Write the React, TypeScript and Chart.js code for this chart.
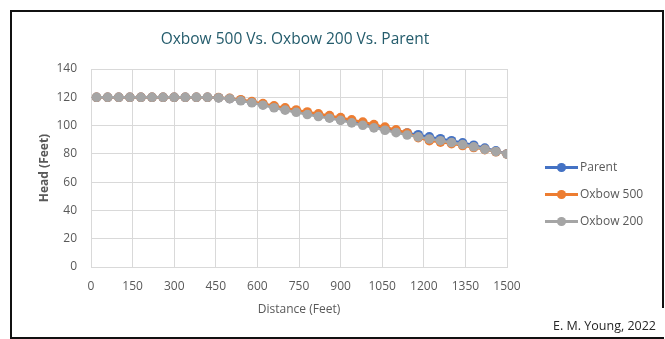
import React, { useEffect, useRef } from "react";
import { Chart, registerables } from "chart.js";

Chart.register(...registerables);

const distances = [20, 60, 100, 140, 180, 220, 260, 300, 340, 380, 420, 460, 500, 540, 580, 620, 660, 700, 740, 780, 820, 860, 900, 940, 980, 1020, 1060, 1100, 1140, 1180, 1220, 1260, 1300, 1340, 1380, 1420, 1460, 1500];

const parent = [120, 120, 120, 120, 120, 120, 120, 120, 120, 120, 120, 119.7, 119.1, 117.9, 116.5, 114.9, 113.3, 111.7, 110.1, 108.6, 107.1, 105.7, 104.3, 102.8, 101.3, 99.6, 97.9, 96.3, 94.8, 93.5, 92.0, 90.7, 89.3, 87.8, 86.1, 84.1, 82.1, 80.0];

const oxbow500 = [120, 120, 120, 120, 120, 120, 120, 120, 120, 120, 120, 119.8, 119.2, 118.3, 117.0, 115.5, 114.0, 112.5, 111.0, 109.6, 108.3, 107.0, 105.6, 104.0, 102.5, 100.7, 98.9, 97.0, 94.8, 91.5, 89.3, 88.3, 87.2, 85.9, 84.5, 83.0, 81.5, 79.9];

const oxbow200 = [120, 120, 120, 120, 120, 120, 120, 120, 120, 120, 120, 119.6, 119.0, 117.5, 116.1, 114.4, 112.6, 110.9, 109.4, 107.8, 106.4, 105.2, 103.7, 101.9, 100.2, 98.4, 96.7, 95.0, 93.3, 92.0, 90.5, 89.3, 88.0, 86.6, 85.0, 83.2, 81.6, 79.9];

const seriesNames = ["Parent", "Oxbow 500", "Oxbow 200"];
const seriesColors = ["#4472C4", "#ED7D31", "#A5A5A5"];

const FONT = "'Open Sans', 'Liberation Sans', sans-serif";

export default function App() {
  const canvasRef = useRef<HTMLCanvasElement | null>(null);

  useEffect(() => {
    const canvas = canvasRef.current;
    if (!canvas) return;
    const all = [parent, oxbow500, oxbow200];
    const chart = new Chart(canvas, {
      type: "line",
      data: {
        datasets: all.map((vals, i) => ({
          label: seriesNames[i],
          data: distances.map((d, j) => ({ x: d, y: vals[j] })),
          borderColor: seriesColors[i],
          backgroundColor: seriesColors[i],
          pointBackgroundColor: seriesColors[i],
          pointBorderColor: seriesColors[i],
          pointRadius: 4.8,
          pointBorderWidth: 0,
          borderWidth: 2.5,
          tension: 0,
          fill: false,
          order: 3 - i,
        })),
      },
      options: {
        animation: false,
        responsive: false,
        maintainAspectRatio: false,
        layout: { padding: { left: 0, top: 57, right: 145, bottom: 0 } },
        plugins: {
          legend: { display: false },
          title: { display: false },
          tooltip: { enabled: false },
        },
        scales: {
          x: {
            type: "linear",
            min: 0,
            max: 1500,
            ticks: {
              stepSize: 150,
              padding: 12,
              color: "#595959",
              font: { family: FONT, size: 12 },
              maxRotation: 0,
              callback: (v: any) => String(v),
            },
            grid: { color: "#D9D9D9", lineWidth: 1, drawTicks: false },
            border: { color: "#D9D9D9" },
            title: {
              display: true,
              text: "Distance (Feet)",
              color: "#595959",
              font: { family: FONT, size: 12 },
              padding: { top: 0, bottom: 17 },
            },
            afterFit: (s: any) => {
              s.height = 67;
            },
          },
          y: {
            type: "linear",
            min: 0,
            max: 140,
            ticks: {
              stepSize: 20,
              padding: 14,
              color: "#595959",
              font: { family: FONT, size: 12 },
              callback: (v: any) => String(v),
            },
            grid: { color: "#D9D9D9", lineWidth: 1, drawTicks: false },
            border: { display: false },
            title: {
              display: true,
              text: "Head (Feet)",
              color: "#595959",
              font: { family: FONT, size: 12, weight: "bold" },
              padding: { top: 25, bottom: 0 },
            },
            afterFit: (s: any) => {
              s.width = 79;
            },
          },
        },
      },
    });
    return () => chart.destroy();
  }, []);

  const legendTop = [167, 194, 221];

  return (
    <div style={{ position: "absolute", left: 0, top: 0, width: 665, height: 339, background: "#fff", overflow: "hidden" }}>
      <div
        style={{
          position: "absolute",
          left: 10,
          top: 10,
          width: 650,
          height: 325,
          border: "2px solid #111",
        }}
      />
      <canvas
        ref={canvasRef}
        width={640}
        height={322}
        style={{ position: "absolute", left: 12, top: 12, width: 640, height: 322 }}
      />
      <div
        style={{
          position: "absolute",
          left: 100,
          width: 390,
          top: 27,
          textAlign: "center",
          fontFamily: FONT,
          fontSize: 15.5,
          color: "#245C6C",
          lineHeight: "22px",
          whiteSpace: "nowrap",
        }}
      >
        Oxbow 500 Vs. Oxbow 200 Vs. Parent
      </div>
      {seriesNames.map((name, i) => (
        <div key={name} style={{ position: "absolute", left: 545, top: legendTop[i] - 9, height: 18, width: 110 }}>
          <div
            style={{
              position: "absolute",
              left: 0,
              top: 8,
              width: 33,
              height: 2.5,
              background: seriesColors[i],
            }}
          />
          <div
            style={{
              position: "absolute",
              left: 12,
              top: 5,
              width: 8.5,
              height: 8.5,
              borderRadius: "50%",
              background: seriesColors[i],
            }}
          />
          <div
            style={{
              position: "absolute",
              left: 35,
              top: 0,
              lineHeight: "18px",
              fontFamily: FONT,
              fontSize: 12,
              color: "#595959",
              whiteSpace: "nowrap",
            }}
          >
            {name}
          </div>
        </div>
      ))}
      <div
        style={{
          position: "absolute",
          left: 540,
          top: 308,
          width: 125,
          height: 29,
          background: "#fff",
        }}
      />
      <div
        style={{
          position: "absolute",
          left: 530,
          top: 317,
          width: 126,
          textAlign: "right",
          fontFamily: FONT,
          fontSize: 12.5,
          color: "#262626",
          lineHeight: "18px",
          whiteSpace: "nowrap",
        }}
      >
        E. M. Young, 2022
      </div>
    </div>
  );
}
